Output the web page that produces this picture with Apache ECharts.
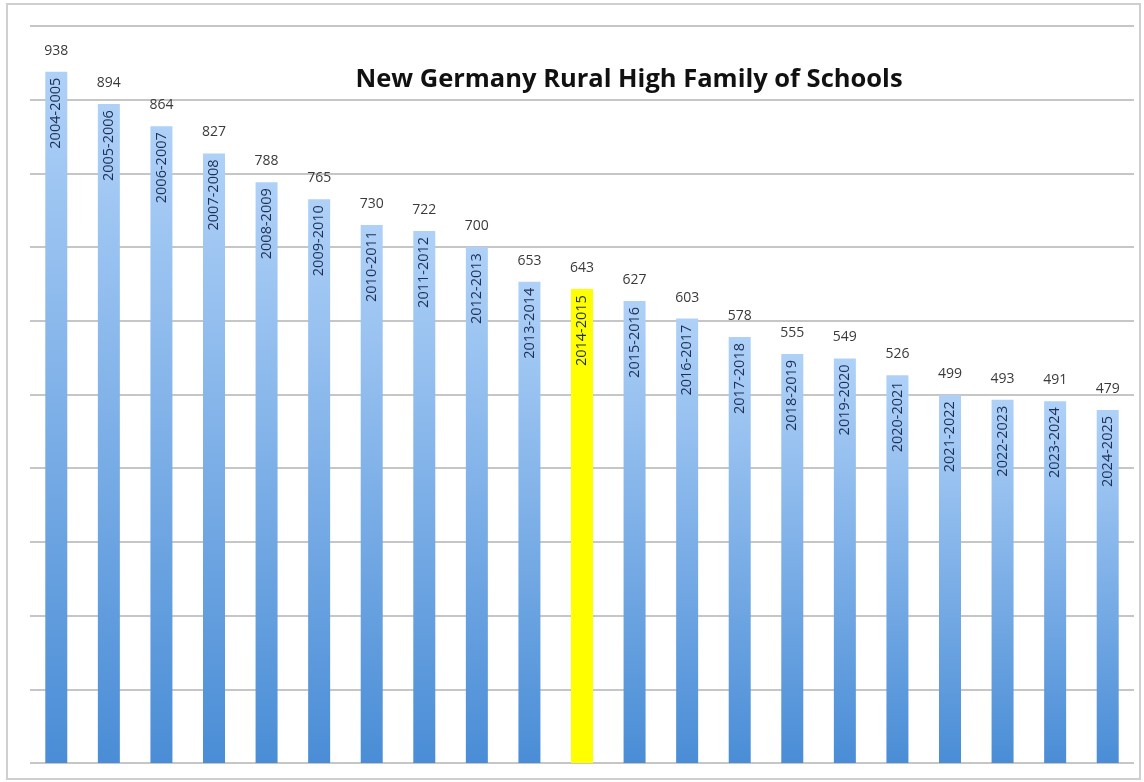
<!DOCTYPE html>
<html>
<head>
<meta charset="utf-8">
<script src="https://cdn.jsdelivr.net/npm/echarts@6/dist/echarts.min.js"></script>
<style>
html,body{margin:0;padding:0;background:#fff;}
#chart{width:1144px;height:782px;}
</style>
</head>
<body>
<div id="chart"></div>
<script>
const categories = ['2004-2005','2005-2006','2006-2007','2007-2008','2008-2009','2009-2010','2010-2011','2011-2012','2012-2013','2013-2014','2014-2015','2015-2016','2016-2017','2017-2018','2018-2019','2019-2020','2020-2021','2021-2022','2022-2023','2023-2024','2024-2025'];
const enrolment = [938,894,864,827,788,765,730,722,700,653,643,627,603,578,555,549,526,499,493,491,479];
const highlightCategory = '2014-2015';
const yMin = 0, yMax = 1000, yStep = 100;
const titleText = 'New Germany Rural High Family of Schools';

const blueGrad = new echarts.graphic.LinearGradient(0,0,0,1,[
  {offset:0,color:'#afd1f8'},
  {offset:1,color:'#4a8dd6'}
]);
const dataItems = enrolment.map((v,i)=>({
  value:v,
  itemStyle:{color: categories[i]===highlightCategory ? '#ffff00' : blueGrad}
}));

const chart = echarts.init(document.getElementById('chart'));
chart.setOption({
  animation:false,
  backgroundColor:'#fff',
  title:{
    text:titleText,
    left:624, top:62, textAlign:'center',
    textStyle:{fontFamily:'Open Sans',fontWeight:'bold',fontSize:25.5,color:'#111'}
  },
  graphic:[{
    type:'rect', shape:{x:7,y:4,width:1133,height:775},
    style:{fill:'none',stroke:'#cfcfcf',lineWidth:2}, silent:true, z:-1
  }],
  grid:{left:30,right:10,top:26,bottom:19,containLabel:false},
  xAxis:{
    type:'category', data:categories,
    axisLine:{show:false}, axisTick:{show:false}, axisLabel:{show:false}
  },
  yAxis:{
    type:'value', min:yMin, max:yMax, interval:yStep,
    axisLabel:{show:false}, axisLine:{show:false}, axisTick:{show:false},
    splitLine:{lineStyle:{color:'#c6c6c6',width:2}}
  },
  series:[{
    type:'bar', data:dataItems, barWidth:22,
    label:{show:true, position:'top', distance:14, fontFamily:'Open Sans', fontSize:14, color:'#3a3a3a'}
  },{
    type:'bar', data:enrolment, barWidth:22, barGap:'-100%', silent:true,
    itemStyle:{color:'rgba(0,0,0,0)'},
    label:{show:true, position:'insideTop', rotate:90, align:'right', verticalAlign:'middle', distance:6,
      formatter:'{b}', fontFamily:'Open Sans', fontSize:14.5, color:'#1d2f55'}
  }]
});
</script>
</body>
</html>
